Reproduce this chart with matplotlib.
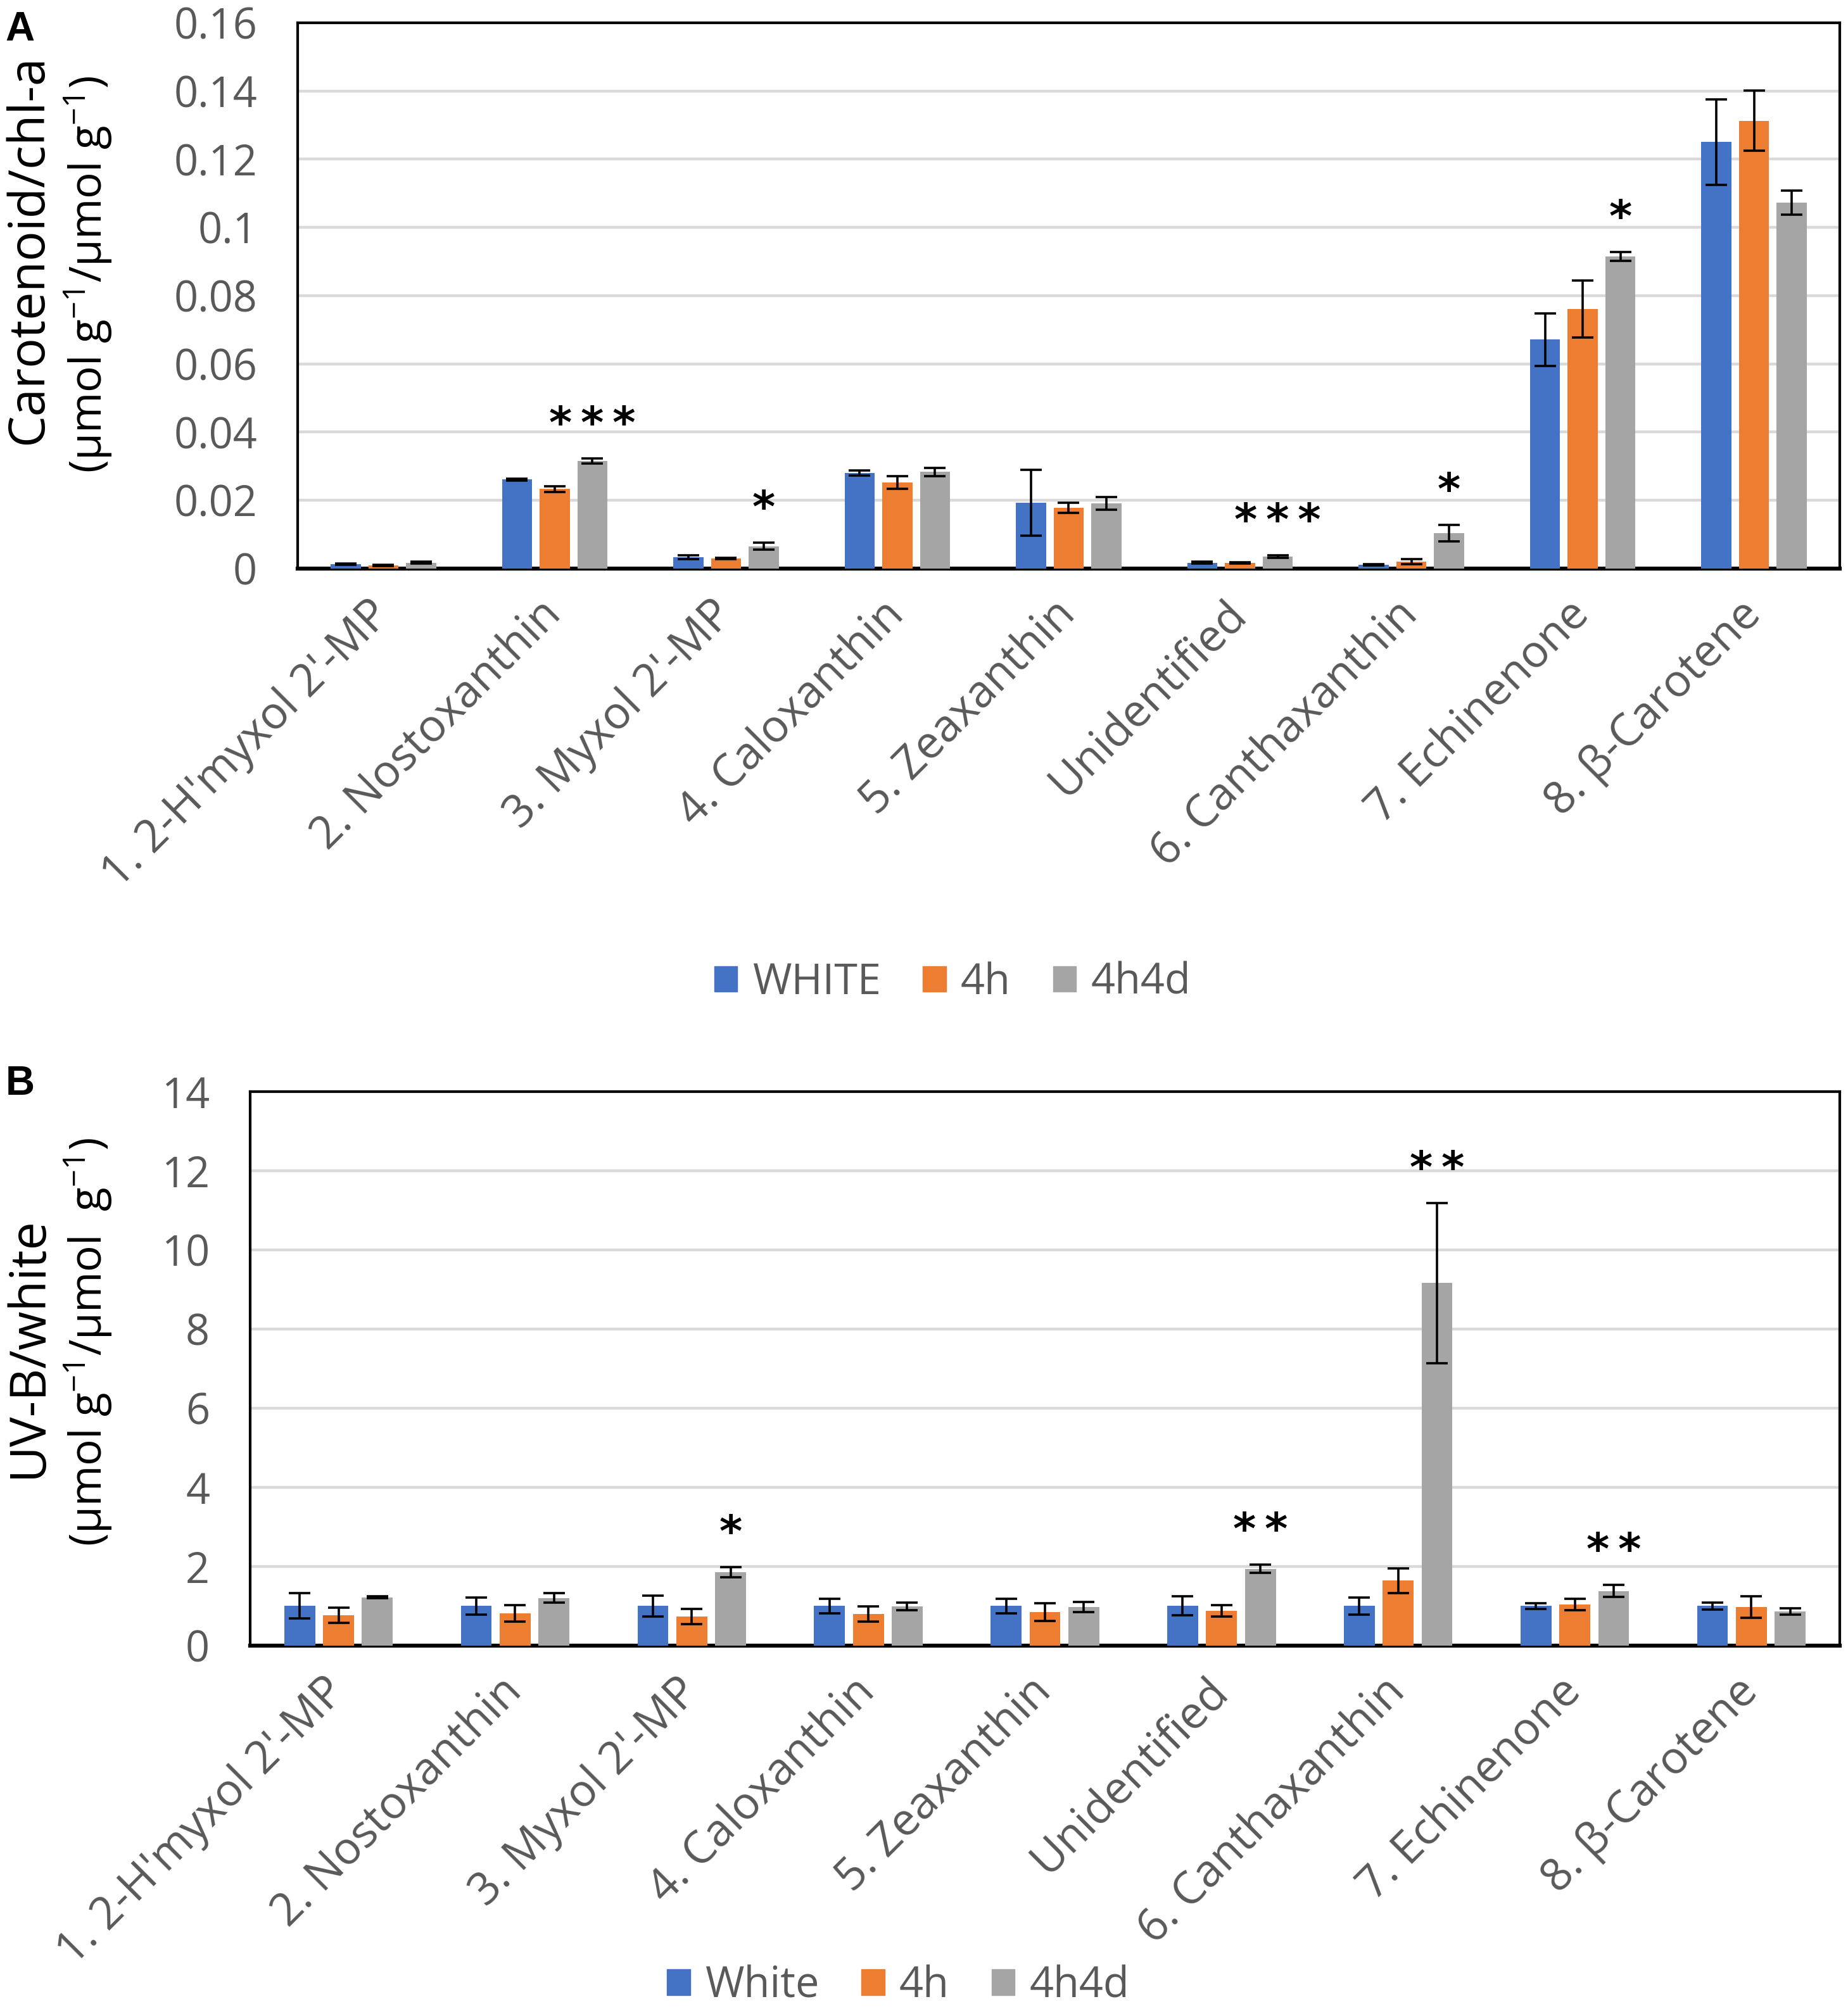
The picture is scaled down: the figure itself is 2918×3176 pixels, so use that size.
import numpy as np
import matplotlib
matplotlib.use('Agg')
import matplotlib.pyplot as plt
from matplotlib.patches import Patch

plt.rcParams['font.family'] = ['Open Sans', 'DejaVu Sans']
plt.rcParams['mathtext.fontset'] = 'custom'
plt.rcParams['mathtext.rm'] = 'Open Sans'
plt.rcParams['mathtext.it'] = 'Open Sans:italic'

# categories (same for both panels)
pigments = ["1. 2-H'myxol 2'-MP", "2. Nostoxanthin", "3. Myxol 2'-MP", "4. Caloxanthin",
            "5. Zeaxanthin", "Unidentified", "6. Canthaxanthin", "7. Echinenone", "8. \u03b2-Carotene"]

# panel A: carotenoid / chl-a
a_white = [0.0013, 0.0261, 0.0033, 0.0280, 0.0193, 0.0017, 0.0011, 0.0671, 0.1250]
a_4h = [0.0009, 0.0233, 0.0029, 0.0252, 0.0178, 0.0016, 0.0020, 0.0761, 0.1313]
a_4h4d = [0.0017, 0.0315, 0.0065, 0.0283, 0.0191, 0.0035, 0.0104, 0.0915, 0.1073]
a_white_err = [0.0002, 0.0003, 0.0005, 0.0008, 0.0096, 0.0003, 0.0002, 0.0077, 0.0126]
a_4h_err = [0.0001, 0.0008, 0.0002, 0.0018, 0.0014, 0.0002, 0.0008, 0.0083, 0.0089]
a_4h4d_err = [0.0003, 0.0008, 0.0010, 0.0012, 0.0018, 0.0004, 0.0024, 0.0013, 0.0035]
a_stars = ['', '***', '*', '', '', '***', '*', '*', '']
a_ticks = [0, 0.02, 0.04, 0.06, 0.08, 0.1, 0.12, 0.14, 0.16]
a_ticklabels = ['0', '0.02', '0.04', '0.06', '0.08', '0.1', '0.12', '0.14', '0.16']

# panel B: UV-B / white
b_white = [1.0, 1.0, 1.0, 1.0, 1.0, 1.0, 1.0, 1.0, 1.0]
b_4h = [0.77, 0.82, 0.74, 0.80, 0.85, 0.88, 1.64, 1.04, 0.98]
b_4h4d = [1.22, 1.20, 1.85, 0.99, 0.98, 1.94, 9.16, 1.38, 0.86]
b_white_err = [0.32, 0.21, 0.27, 0.19, 0.19, 0.24, 0.22, 0.07, 0.09]
b_4h_err = [0.19, 0.21, 0.19, 0.19, 0.22, 0.14, 0.31, 0.14, 0.27]
b_4h4d_err = [0.02, 0.12, 0.13, 0.10, 0.13, 0.10, 2.02, 0.15, 0.08]
b_stars = ['', '', '*', '', '', '**', '**', '**', '']
b_ticks = [0, 2, 4, 6, 8, 10, 12, 14]

colors = ['#4472C4', '#ED7D31', '#A5A5A5']
tick_color = '#595959'
grid_color = '#D9D9D9'


def draw_panel(ax, series, errs, stars, ymax, ticks, ticklabels):
    x = np.arange(len(pigments))
    w = 0.175
    step = 0.22
    for k, (vals, err) in enumerate(zip(series, errs)):
        ax.bar(x + (k - 1) * step, vals, w, color=colors[k], zorder=3)
        ax.errorbar(x + (k - 1) * step, vals, yerr=err, fmt='none', ecolor='black',
                    elinewidth=2.6, capsize=12, capthick=2.6, zorder=4)
    tops = np.array(series[2]) + np.array(errs[2])
    for i, s in enumerate(stars):
        if s:
            ax.annotate('\u2009'.join(s), (x[i] + step, tops[i]), xytext=(0, 38),
                        textcoords='offset points', ha='center', va='center',
                        fontsize=50, fontweight='bold', family='DejaVu Sans')
    ax.set_xlim(-0.5, len(pigments) - 0.5)
    ax.set_ylim(0, ymax)
    ax.set_yticks(ticks)
    ax.set_yticklabels(ticklabels, fontsize=48)
    ax.set_xticks(x)
    ax.set_xticklabels(pigments, rotation=45, ha='right', va='center', rotation_mode='anchor',
                       fontsize=51)
    ax.tick_params(axis='both', length=0, labelcolor=tick_color)
    ax.tick_params(axis='y', pad=46)
    ax.tick_params(axis='x', pad=45)
    ax.yaxis.grid(True, color=grid_color, linewidth=3.2, zorder=0)
    ax.set_axisbelow(True)
    for sp in ax.spines.values():
        sp.set_linewidth(3)
        sp.set_color('black')
    ax.spines['bottom'].set_linewidth(4.5)


fig = plt.figure(figsize=(29.18, 31.76), dpi=100)

ax1 = fig.add_axes([0.1611, 0.7173, 0.8344, 0.2714])
draw_panel(ax1, [a_white, a_4h, a_4h4d], [a_white_err, a_4h_err, a_4h4d_err],
           a_stars, 0.16, a_ticks, a_ticklabels)

ax2 = fig.add_axes([0.1354, 0.1817, 0.8601, 0.2755])
draw_panel(ax2, [b_white, b_4h, b_4h4d], [b_white_err, b_4h_err, b_4h4d_err],
           b_stars, 14, b_ticks, [str(t) for t in b_ticks])

# y labels
fig.text(0.0155, 0.876, 'Carotenoid/chl-a', rotation=90, ha='center', va='center', fontsize=57)
fig.text(0.0475, 0.8635, r'(µmol g$^{\mathrm{-1}}$/µmol g$^{\mathrm{-1}}$)', rotation=90,
         ha='center', va='center', fontsize=50)
fig.text(0.0155, 0.330, 'UV-B/white', rotation=90, ha='center', va='center', fontsize=57)
fig.text(0.0475, 0.3325, r'(µmol g$^{\mathrm{-1}}$/µmol  g$^{\mathrm{-1}}$)', rotation=90,
         ha='center', va='center', fontsize=50)

# panel letters
fig.text(0.003, 0.9945, 'A', ha='left', va='top', fontsize=46, fontweight='bold',
         family='Liberation Sans')
fig.text(0.003, 0.4705, 'B', ha='left', va='top', fontsize=46, fontweight='bold',
         family='Liberation Sans')

# legends
handles_a = [Patch(color=colors[0], label='WHITE'), Patch(color=colors[1], label='4h'),
             Patch(color=colors[2], label='4h4d')]
leg = fig.legend(handles=handles_a, loc='center', bbox_to_anchor=(0.5154, 0.5113), ncol=3,
                 frameon=False, fontsize=48, handlelength=0.55, handleheight=0.55,
                 handletextpad=0.35, columnspacing=1.0)
for t in leg.get_texts():
    t.set_color(tick_color)

handles_b = [Patch(color=colors[0], label='White'), Patch(color=colors[1], label='4h'),
             Patch(color=colors[2], label='4h4d')]
leg = fig.legend(handles=handles_b, loc='center', bbox_to_anchor=(0.486, 0.0125), ncol=3,
                 frameon=False, fontsize=48, handlelength=0.55, handleheight=0.55,
                 handletextpad=0.35, columnspacing=1.0, borderpad=0.1)
for t in leg.get_texts():
    t.set_color(tick_color)

fig.savefig('out.png', dpi=100)
